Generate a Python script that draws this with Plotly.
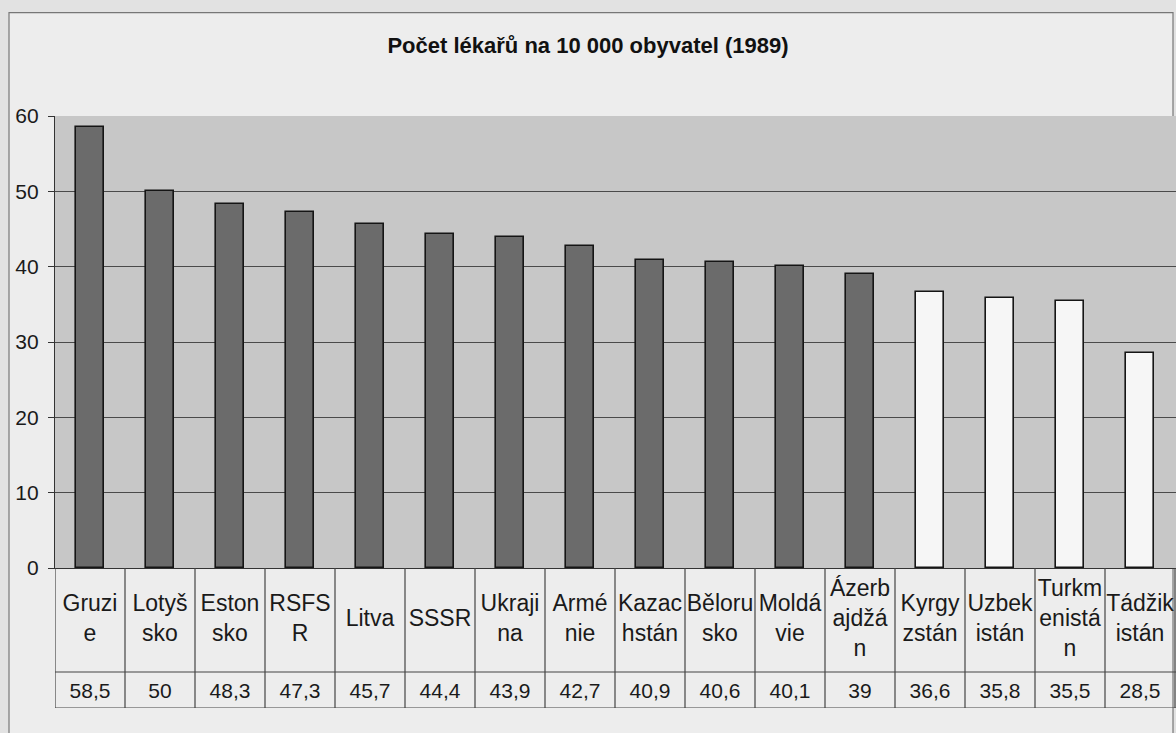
import plotly.graph_objects as go

# ---- data ----
categories = ["Gruzie", "Lotyšsko", "Estonsko", "RSFSR", "Litva", "SSSR", "Ukrajina",
              "Arménie", "Kazachstán", "Bělorusko", "Moldávie", "Ázerbajdžán",
              "Kyrgyzstán", "Uzbekistán", "Turkmenistán", "Tádžikistán"]
table_labels = ["Gruzi<br>e", "Lotyš<br>sko", "Eston<br>sko", "RSFS<br>R", "Litva", "SSSR",
                "Ukraji<br>na", "Armé<br>nie", "Kazac<br>hstán", "Běloru<br>sko", "Moldá<br>vie",
                "Ázerb<br>ajdžá<br>n", "Kyrgy<br>zstán", "Uzbek<br>istán", "Turkm<br>enistá<br>n",
                "Tádžik<br>istán"]
values = [58.5, 50, 48.3, 47.3, 45.7, 44.4, 43.9, 42.7, 40.9, 40.6, 40.1, 39,
          36.6, 35.8, 35.5, 28.5]
light_bars = ["Kyrgyzstán", "Uzbekistán", "Turkmenistán", "Tádžikistán"]
y_ticks = [0, 10, 20, 30, 40, 50, 60]
title_text = "Počet lékařů na 10 000 obyvatel (1989)"

FONT = "Liberation Sans, Arial, sans-serif"
DARK = "#6b6b6b"
LIGHT = "#f6f6f6"
bar_colors = [LIGHT if c in light_bars else DARK for c in categories]
value_text = [f"{v:g}".replace(".", ",") for v in values]

W, H = 1176, 733
mt, mb, ml, mr = 116, 25, 55, 0
ph = H - mt - mb
table_px = 140
split = table_px / ph
col_px = 70.0

fig = go.Figure()
fig.add_trace(go.Bar(
    x=categories, y=values, width=0.41,
    marker=dict(color=bar_colors, line=dict(color="#151515", width=1.6)),
    xaxis="x", yaxis="y", showlegend=False, hoverinfo="x+y",
))
# table: category labels
fig.add_trace(go.Scatter(
    x=categories, y=[52] * len(categories), mode="text", text=table_labels,
    textposition="middle center", textfont=dict(family=FONT, size=23, color="#1a1a1a"),
    xaxis="x", yaxis="y2", showlegend=False, hoverinfo="skip", cliponaxis=False,
))
# table: values
fig.add_trace(go.Scatter(
    x=categories, y=[125] * len(categories), mode="text", text=value_text,
    textposition="middle center", textfont=dict(family=FONT, size=21, color="#1a1a1a"),
    xaxis="x", yaxis="y2", showlegend=False, hoverinfo="skip", cliponaxis=False,
))

shapes = []
pw = W - ml - mr
def px_x(p):
    return (p - ml) / pw
def px_y(p):
    return 1 - (p - mt) / ph
# outer frame (paper coords)
shapes.append(dict(type="rect", xref="paper", yref="paper",
                   x0=px_x(9), x1=px_x(1173), y0=px_y(760), y1=px_y(12.7),
                   fillcolor="#ededed", line=dict(color="#777", width=1.2), layer="below"))
# plot area background
shapes.append(dict(type="rect", xref="x domain", yref="y domain", x0=0, x1=1, y0=0, y1=1,
                   fillcolor="#c7c7c7", line=dict(width=0), layer="below"))
# table grid
n = len(categories)
for i in range(n + 1):
    shapes.append(dict(type="line", xref="x", yref="y2", x0=i - 0.5, x1=i - 0.5,
                       y0=0, y1=table_px, line=dict(color="#444", width=1.2)))
for yy in [104, table_px]:
    shapes.append(dict(type="line", xref="x", yref="y2", x0=-0.5, x1=n,
                       y0=yy, y1=yy, line=dict(color="#444", width=1.2)))

fig.update_layout(
    width=W, height=H,
    margin=dict(l=ml, r=mr, t=mt, b=mb),
    paper_bgcolor="#e2e2e2",
    plot_bgcolor="rgba(0,0,0,0)",
    font=dict(family=FONT, color="#1a1a1a"),
    title=dict(text=f"<b>{title_text}</b>", x=0.5, xref="container", xanchor="center",
               y=1 - 45.5 / H, yref="container", yanchor="middle",
               font=dict(family=FONT, size=22, color="#111")),
    bargap=0,
    xaxis=dict(anchor="y", domain=[0, 1], range=[-0.5, -0.5 + pw / col_px],
               showticklabels=False, ticks="", showgrid=False, zeroline=False,
               showline=True, linecolor="#333", linewidth=1.2,
               categoryorder="array", categoryarray=categories),
    yaxis=dict(domain=[split, 1], range=[0, 60], tickvals=y_ticks,
               showgrid=True, gridcolor="#4a4a4a", gridwidth=1.2, zeroline=False,
               showline=True, linecolor="#333", linewidth=1.2,
               ticks="outside", ticklen=6, tickcolor="#333", ticklabelstandoff=5,
               tickfont=dict(family=FONT, size=21, color="#1a1a1a")),
    yaxis2=dict(domain=[0, split], range=[table_px, 0], anchor="x",
                showticklabels=False, showgrid=False, zeroline=False, showline=False,
                ticks=""),
    shapes=shapes,
)

fig.write_html(
    "out.html",
    config={"displayModeBar": False},
    post_script="document.body.style.margin='0';document.body.style.padding='0';"
                "document.documentElement.style.overflow='hidden';",
)
